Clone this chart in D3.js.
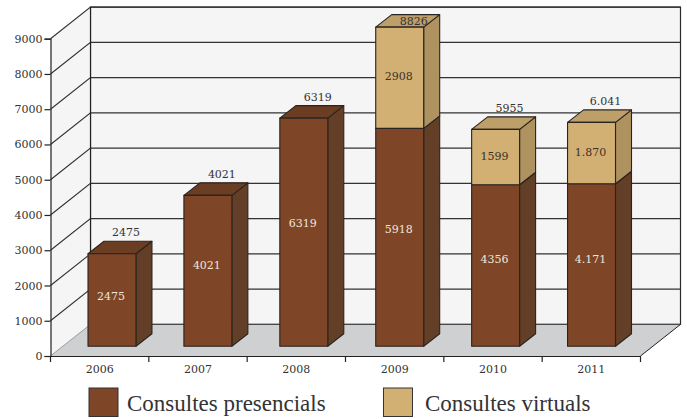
<!DOCTYPE html>
<html>
<head>
<meta charset="utf-8">
<script src="https://cdn.jsdelivr.net/npm/d3@7"></script>
<style>
html, body { margin: 0; padding: 0; background: #fff; }
svg { display: block; }
</style>
</head>
<body>
<div id="chart"></div>
<script>
var years = ["2006", "2007", "2008", "2009", "2010", "2011"];
var tickValues = [0, 1000, 2000, 3000, 4000, 5000, 6000, 7000, 8000, 9000];

// heights as drawn in the picture, they do not sit exactly on the printed numbers
var presencials = [2625, 4281, 6473, 6181, 4582, 4610];
var virtuals = [0, 0, 0, 2872, 1571, 1741];

var presencialsLabels = ["2475", "4021", "6319", "5918", "4356", "4.171"];
var virtualsLabels = ["", "", "", "2908", "1599", "1.870"];
var totalLabels = ["2475", "4021", "6319", "8826", "5955", "6.041"];

var seriesNames = ["Consultes presencials", "Consultes virtuals"];

var width = 687, height = 419;
var depthX = 40, depthY = -31.6;
var barDepthX = 16, barDepthY = -12.5;
var barInsetY = -9.7;
var serif = "'DejaVu Serif', serif";

var svg = d3.select("#chart").append("svg").attr("width", width).attr("height", height);

var x = d3.scaleBand().domain(years).range([50.5, 640.5]);
var barX = d3.scaleBand().domain(years).range([88, 615.5]).paddingInner(0.5);
var y = d3.scaleLinear().domain([0, 9000]).range([356, 38.7]);

var brown = { front: "#7e4526", side: "#643f27", top: "#6b3d22" };
var tan = { front: "#d2b074", side: "#ae9361", top: "#bd9f69" };
var stroke = "#2a2420";

var left = x.range()[0], right = x.range()[1];

function pts(a) {
  return a.map(function(p) { return p.join(","); }).join(" ");
}

// back wall and left wall
svg.append("polygon")
  .attr("points", pts([[left + depthX, y(9000) + depthY], [right + depthX, y(9000) + depthY], [right + depthX, y(0) + depthY], [left + depthX, y(0) + depthY]]))
  .attr("fill", "#f5f5f5").attr("stroke", "#2a2a2a").attr("stroke-width", 1.2);
svg.append("polygon")
  .attr("points", pts([[left, y(9000)], [left + depthX, y(9000) + depthY], [left + depthX, y(0) + depthY], [left, y(0)]]))
  .attr("fill", "#f5f5f5");

// floor
svg.append("polygon")
  .attr("points", pts([[left, y(0)], [left + depthX, y(0) + depthY], [right + depthX, y(0) + depthY], [right, y(0)]]))
  .attr("fill", "#cfd0d2");
svg.append("line")
  .attr("x1", right).attr("y1", y(0))
  .attr("x2", right + depthX).attr("y2", y(0) + depthY)
  .attr("stroke", "#222").attr("stroke-width", 1);

// grid lines
tickValues.forEach(function(v) {
  if (v === 0) return;
  svg.append("polyline")
    .attr("points", pts([[left, y(v)], [left + depthX, y(v) + depthY], [right + depthX, y(v) + depthY]]))
    .attr("fill", "none")
    .attr("stroke", "#333")
    .attr("stroke-width", 1.1);
});
svg.append("line")
  .attr("x1", left).attr("y1", y(0)).attr("x2", left + depthX).attr("y2", y(0) + depthY)
  .attr("stroke", "#999").attr("stroke-width", 1);
svg.append("line")
  .attr("x1", left + depthX).attr("y1", y(0) + depthY).attr("x2", right + depthX).attr("y2", y(0) + depthY)
  .attr("stroke", "#444").attr("stroke-width", 1);
svg.append("line")
  .attr("x1", left + depthX).attr("y1", y(9000) + depthY).attr("x2", left + depthX).attr("y2", y(0) + depthY)
  .attr("stroke", "#222").attr("stroke-width", 1.2);

// axes
var axisY = d3.axisLeft(y).tickValues(tickValues).tickFormat(d3.format("d")).tickSize(6).tickPadding(2);
var gy = svg.append("g").attr("transform", "translate(" + left + ",0)").call(axisY);
var axisX = d3.axisBottom(x).tickSize(0).tickPadding(9);
var gx = svg.append("g").attr("transform", "translate(0," + y(0) + ")").call(axisX);
[gy, gx].forEach(function(g) {
  g.selectAll("text").attr("font-size", 11).attr("fill", "#333").attr("font-family", serif);
  g.selectAll("path, line").attr("stroke", "#222").attr("stroke-width", 1.2);
});
x.domain().concat(["end"]).forEach(function(d, i) {
  var px = left + i * x.bandwidth();
  svg.append("line").attr("x1", px).attr("x2", px).attr("y1", y(0)).attr("y2", y(0) + 6)
    .attr("stroke", "#222").attr("stroke-width", 1.2);
});

// one box of a stacked bar
function box(year, v0, v1, col) {
  var x0 = barX(year);
  var x1 = x0 + barX.bandwidth();
  var h0 = y(v0) + barInsetY;
  var h1 = y(v1) + barInsetY;
  var g = svg.append("g").attr("stroke", stroke).attr("stroke-width", 1.1).attr("stroke-linejoin", "round");
  g.append("polygon").attr("fill", col.side)
    .attr("points", pts([[x1, h0], [x1 + barDepthX, h0 + barDepthY], [x1 + barDepthX, h1 + barDepthY], [x1, h1]]));
  g.append("polygon").attr("fill", col.top)
    .attr("points", pts([[x0, h1], [x0 + barDepthX, h1 + barDepthY], [x1 + barDepthX, h1 + barDepthY], [x1, h1]]));
  g.append("rect").attr("fill", col.front)
    .attr("x", x0).attr("y", h1).attr("width", barX.bandwidth()).attr("height", h0 - h1);
}

years.forEach(function(year, i) {
  box(year, 0, presencials[i], brown);
  if (virtuals[i] > 0) box(year, presencials[i], presencials[i] + virtuals[i], tan);
});

// value labels
years.forEach(function(year, i) {
  var cx = barX(year) + barX.bandwidth() / 2;
  svg.append("text").attr("x", cx - 1).attr("y", y(presencials[i] * 0.54) + barInsetY + 4)
    .attr("text-anchor", "middle").attr("font-size", 11).attr("font-family", serif).attr("fill", "#f0e6dc")
    .text(presencialsLabels[i]);
  if (virtuals[i] > 0) {
    svg.append("text").attr("x", cx - 1).attr("y", y(presencials[i] + virtuals[i] * 0.52) + barInsetY + 4)
      .attr("text-anchor", "middle").attr("font-size", 11).attr("font-family", serif).attr("fill", "#3a3226")
      .text(virtualsLabels[i]);
  }
  // the tallest total stays inside the plot, on the bar's top face
  var ty = Math.max(y(presencials[i] + virtuals[i]) + barInsetY - 17.5, 25);
  svg.append("text").attr("x", cx + 14).attr("y", ty)
    .attr("text-anchor", "middle").attr("font-size", 11).attr("font-family", serif).attr("fill", "#333")
    .text(totalLabels[i]);
});

// legend
var legendColors = [brown.front, tan.front];
var legendX = [89, 383.5];
var legendTextX = [127, 425];
seriesNames.forEach(function(name, i) {
  svg.append("rect").attr("x", legendX[i]).attr("y", 388).attr("width", 29).attr("height", 28.5)
    .attr("fill", legendColors[i]).attr("stroke", "#333").attr("stroke-width", 1);
  svg.append("text").attr("x", legendTextX[i]).attr("y", 411)
    .attr("font-size", 23).attr("fill", "#333")
    .attr("font-family", "'Liberation Serif', serif")
    .text(name);
});
</script>
</body>
</html>
